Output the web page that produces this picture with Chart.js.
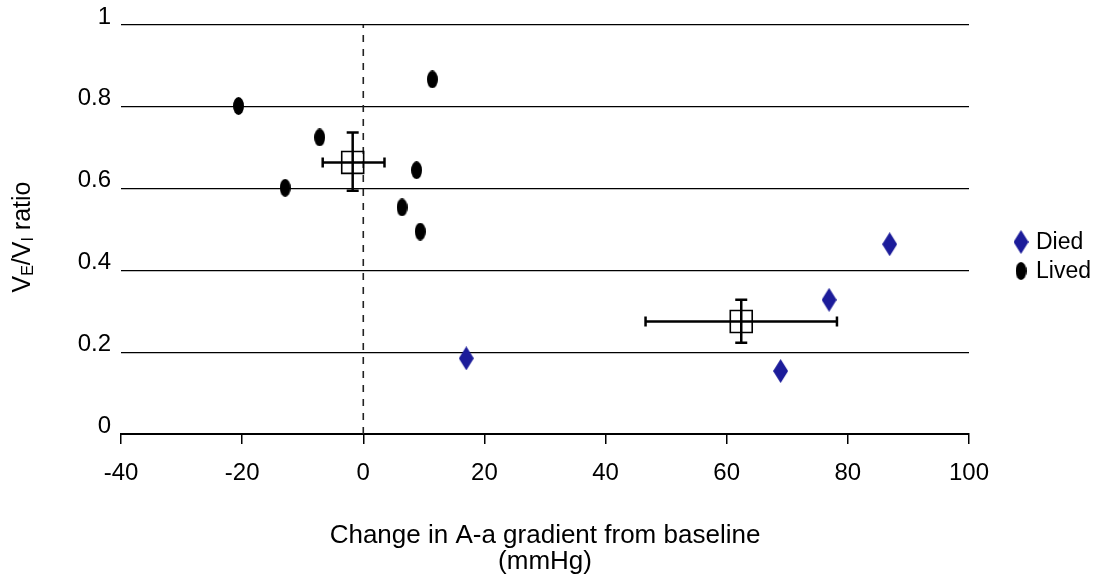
<!DOCTYPE html>
<html>
<head>
<meta charset="utf-8">
<script src="https://cdn.jsdelivr.net/npm/chart.js@4/dist/chart.umd.min.js"></script>
<style>
  html, body { margin: 0; padding: 0; background: #fff; }
  canvas { display: block; }
</style>
</head>
<body>
<canvas id="chart" width="1109" height="579"></canvas>
<script>
// data
const xTicks = [-40, -20, 0, 20, 40, 60, 80, 100];
const yTicks = [0, 0.2, 0.4, 0.6, 0.8, 1];

const livedX = [-20.6, 11.4, -7.2, -12.9, 8.8, 6.4, 9.4];
const livedY = [0.802, 0.867, 0.725, 0.602, 0.645, 0.554, 0.495];
const diedX = [17.0, 86.9, 76.9, 68.9];
const diedY = [0.185, 0.464, 0.328, 0.154];

// group means with error bars (Lived, Died)
const meanX = [-1.75, 62.4];
const meanY = [0.664, 0.275];
const meanXLow = [-6.7, 46.6];
const meanXHigh = [3.5, 78.2];
const meanYLow = [0.595, 0.223];
const meanYHigh = [0.737, 0.328];

const refLineX = 0;

const xTitle = ['Change in A-a gradient from baseline', '(mmHg)'];
const FONT = "'Liberation Sans', Arial, sans-serif";
const BLUE = '#1c1c9a';

function diamondImage(w, h, color) {
    const c = document.createElement('canvas');
    c.width = w; c.height = h;
    const g = c.getContext('2d');
    g.fillStyle = color;
    g.beginPath();
    g.moveTo(w / 2, 0);
    g.lineTo(w, h / 2);
    g.lineTo(w / 2, h);
    g.lineTo(0, h / 2);
    g.closePath();
    g.fill();
    return c;
}

function ellipseImage(w, h, color) {
    const c = document.createElement('canvas');
    c.width = w; c.height = h;
    const g = c.getContext('2d');
    g.fillStyle = color;
    g.beginPath();
    g.ellipse(w / 2, h / 2, w / 2, h / 2, 0, 0, Math.PI * 2);
    g.fill();
    return c;
}

const diedMarker = diamondImage(15, 24, BLUE);
const livedMarker = ellipseImage(11, 18, '#000');

const errorBars = {
    id: 'errorBars',
    afterDatasetsDraw(chart) {
        const xs = chart.scales.x, ys = chart.scales.y, ctx = chart.ctx;
        ctx.save();
        ctx.strokeStyle = '#000';
        ctx.lineWidth = 2.5;
        meanX.forEach((mx, i) => {
            const cx = xs.getPixelForValue(mx), cy = ys.getPixelForValue(meanY[i]);
            const x1 = xs.getPixelForValue(meanXLow[i]), x2 = xs.getPixelForValue(meanXHigh[i]);
            const y1 = ys.getPixelForValue(meanYLow[i]), y2 = ys.getPixelForValue(meanYHigh[i]);
            ctx.beginPath();
            ctx.moveTo(x1, cy); ctx.lineTo(x2, cy);
            ctx.moveTo(x1, cy - 5); ctx.lineTo(x1, cy + 5);
            ctx.moveTo(x2, cy - 5); ctx.lineTo(x2, cy + 5);
            ctx.moveTo(cx, y1); ctx.lineTo(cx, y2);
            ctx.moveTo(cx - 6, y1); ctx.lineTo(cx + 6, y1);
            ctx.moveTo(cx - 6, y2); ctx.lineTo(cx + 6, y2);
            ctx.stroke();
        });
        ctx.restore();
    }
};

// y title has subscripts, so draw it by hand
const yTitle = {
    id: 'yTitle',
    afterDraw(chart) {
        const ctx = chart.ctx;
        const parts = [['V', 0], ['E', 1], ['/V', 0], ['I', 1], [' ratio', 0]];
        ctx.save();
        ctx.translate(23, 237);
        ctx.rotate(-Math.PI / 2);
        ctx.fillStyle = '#000';
        ctx.textBaseline = 'middle';
        const big = '25px ' + FONT, small = '16px ' + FONT;
        let total = 0;
        parts.forEach(p => { ctx.font = p[1] ? small : big; total += ctx.measureText(p[0]).width; });
        let x = -total / 2;
        parts.forEach(p => {
            ctx.font = p[1] ? small : big;
            ctx.fillText(p[0], x, p[1] ? 6 : 0);
            x += ctx.measureText(p[0]).width;
        });
        ctx.restore();
    }
};

const sideLegend = {
    id: 'sideLegend',
    afterDraw(chart) {
        const ctx = chart.ctx;
        const items = [chart.data.datasets[1], chart.data.datasets[0]];
        ctx.save();
        ctx.fillStyle = '#000';
        ctx.font = '23px ' + FONT;
        ctx.textBaseline = 'middle';
        items.forEach((ds, i) => {
            const y = 242 + i * 29;
            const img = ds.pointStyle;
            ctx.drawImage(img, 1021 - img.width / 2, y - img.height / 2);
            ctx.fillText(ds.label, 1036, y + 1);
        });
        ctx.restore();
    }
};

new Chart(document.getElementById('chart'), {
    type: 'scatter',
    data: {
        datasets: [
            {
                label: 'Lived',
                data: livedX.map((x, i) => ({ x, y: livedY[i] })),
                pointStyle: livedMarker,
                pointRadius: 9
            },
            {
                label: 'Died',
                data: diedX.map((x, i) => ({ x, y: diedY[i] })),
                pointStyle: diedMarker,
                pointRadius: 12
            },
            {
                label: 'Mean',
                data: meanX.map((x, i) => ({ x, y: meanY[i] })),
                pointStyle: 'rect',
                pointRadius: 15.5,
                backgroundColor: 'rgba(255,255,255,0)',
                borderColor: '#000',
                borderWidth: 1.6
            },
            {
                label: 'zero',
                data: [{ x: refLineX, y: yTicks[0] }, { x: refLineX, y: yTicks[yTicks.length - 1] }],
                showLine: true,
                borderColor: '#222',
                borderWidth: 1.6,
                borderDash: [7, 7],
                pointRadius: 0
            }
        ]
    },
    options: {
        responsive: false,
        animation: false,
        layout: { padding: { top: 25, right: 140, bottom: 0, left: 0 } },
        plugins: {
            legend: { display: false },
            tooltip: { enabled: false }
        },
        scales: {
            x: {
                type: 'linear',
                min: xTicks[0],
                max: xTicks[xTicks.length - 1],
                afterBuildTicks: s => { s.ticks = xTicks.map(v => ({ value: v })); },
                afterFit: s => { s.height = 145; },
                border: { display: true, color: '#000', width: 2 },
                grid: { drawOnChartArea: false, drawTicks: true, tickLength: 10, color: '#000', lineWidth: 1.5 },
                ticks: {
                    color: '#000',
                    font: { family: FONT, size: 24 },
                    padding: 15,
                    maxRotation: 0
                },
                title: {
                    display: true,
                    text: xTitle,
                    color: '#000',
                    font: { family: FONT, size: 26, lineHeight: 1.0 },
                    padding: { top: 0, bottom: 4 }
                }
            },
            y: {
                type: 'linear',
                min: yTicks[0],
                max: yTicks[yTicks.length - 1],
                afterBuildTicks: s => { s.ticks = yTicks.map(v => ({ value: v })); },
                afterFit: s => { s.width = 121; },
                border: { display: false },
                grid: { drawTicks: false, color: '#000', lineWidth: 1.3 },
                ticks: {
                    color: '#000',
                    font: { family: FONT, size: 24 },
                    padding: 10,
                    labelOffset: -8,
                    callback: v => String(Number(v.toFixed(1)))
                }
            }
        }
    },
    plugins: [errorBars, yTitle, sideLegend]
});
</script>
</body>
</html>
